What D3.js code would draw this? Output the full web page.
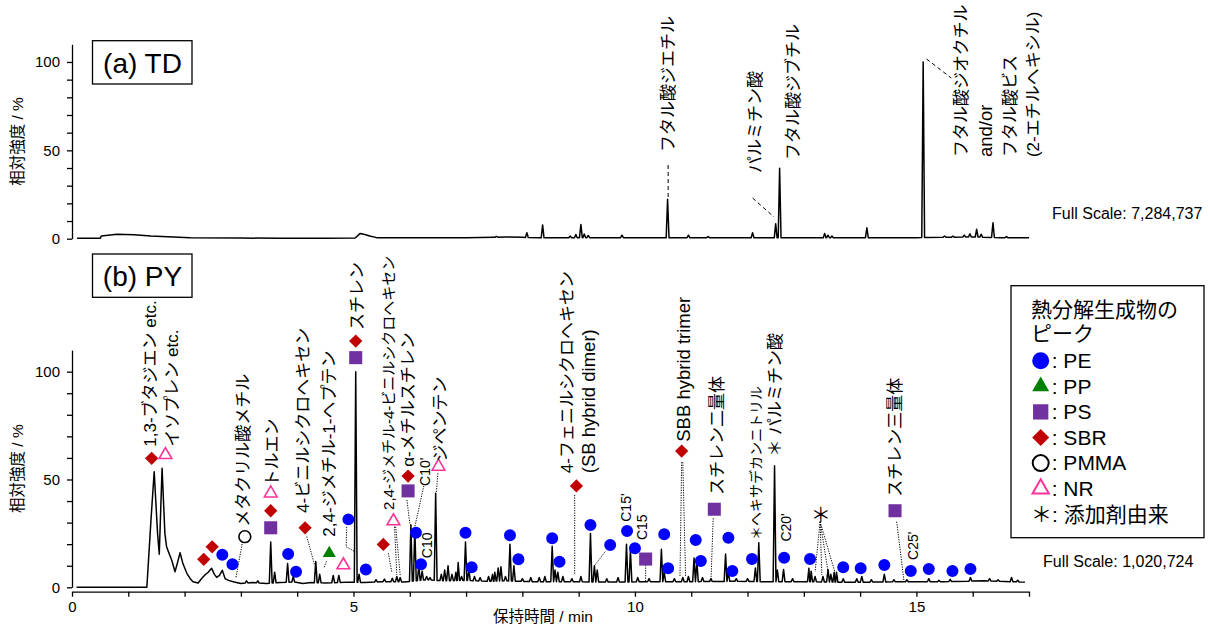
<!DOCTYPE html>
<html>
<head>
<meta charset="utf-8">
<script src="https://cdn.jsdelivr.net/npm/d3@7"></script>
<style>
  body { margin: 0; background: #fff; }
  svg { display: block; font-family: "Liberation Sans", Arial, "Noto Sans CJK JP", sans-serif; }
</style>
</head>
<body>
<svg id="chart" width="1208" height="626"></svg>
<script>
// ---- data (time in min, intensity in %) ----

// (a) TD : slow baseline and sharp peaks
var tdBaseline = [[0.09,0.2],[0.50,0.2],[0.52,1.5],[0.8,2.5],[1.1,2.2],[1.4,1.5],[1.8,1.0],[2.1,0.6],[3.0,0.4],[3.7,0.2],
  [4.5,0.3],[5.03,0.4],[5.12,3],[5.2,2.4],[5.29,1.5],[5.41,0.6],[6.0,0.5],[7.0,0.5],[7.5,0.8],[7.7,1.0],[8.0,0.8],
  [8.3,0.5],[9.5,0.6],[10.5,0.5],[11.5,0.6],[12.3,0.5],[13.0,0.5],[14.0,0.6],[15.0,0.6],[16.0,1.0],[16.5,0.6],[17.0,0.5]];
var tdPeaks = [[7.54,1.3],[8.08,3.4],[8.36,7.8],[8.85,1.5],[8.95,2.4],[9.04,8.1],[9.10,2.6],[9.17,1.8],[9.77,2],
  [10.58,22.3],[10.95,2],[11.3,1.2],[12.09,3.4],[12.50,8.5],[12.57,39.8],[13.37,3],[13.43,2],[13.5,1.5],[14.12,6.2],
  [15.12,100],[15.5,1.5],[15.65,1.5],[15.85,2],[15.95,2.8],[16.07,5.3],[16.15,2.5],[16.36,9],[16.6,1.2]];

// (b) PY
var pyBaseline = [[0.08,0],[1.33,0],[1.40,30],[1.46,53.6],[1.52,25],[1.55,15.3],[1.60,55.2],[1.65,25],[1.68,18.8],
  [1.72,16],[1.77,12.7],[1.83,7.2],[1.88,12],[1.92,16],[1.97,11],[2.04,6.5],[2.10,4],[2.15,2.6],[2.24,2.0],[2.30,4],
  [2.36,5.7],[2.42,7],[2.48,8.8],[2.53,6],[2.57,4.6],[2.62,5.5],[2.67,7.9],[2.72,4],[2.78,3.2],[2.88,2.5],[3.0,1.8],
  [3.2,2.2],[3.45,1.8],[3.7,2.2],[3.95,2.5],[4.1,1.8],[4.25,2.2],[4.5,2.0],[4.9,2.4],[5.2,2.2],[5.5,2.6],[5.9,2.5],
  [6.3,3.5],[6.6,3.0],[7.0,3.2],[7.4,2.8],[7.7,3.0],[8.2,2.6],[8.8,2.6],[9.5,2.4],[10.3,2.6],[11.0,2.6],[11.8,2.8],
  [12.3,2.6],[13.0,2.6],[13.6,2.4],[14.2,2.4],[14.8,2.6],[15.5,2.6],[16.2,3.0],[16.93,2.4]];
var pyPeaks = [[3.1,3],[3.3,3],[3.53,21],[3.6,7],[3.83,11],[3.93,5],[4.33,12],[4.40,6],[4.64,5.5],[4.74,5.5],[5.04,100],
  [5.10,6],[5.40,3.5],[5.55,3.8],[5.69,4.2],[5.77,5],[5.83,4.5],[6.02,29],[6.09,27.5],[6.16,10],[6.22,7.5],[6.30,5],
  [6.36,4.5],[6.46,43.6],[6.56,6],[6.62,8],[6.68,10],[6.75,6],[6.82,7],[6.86,11.5],[6.92,5],[6.99,21],[7.05,8],
  [7.15,5],[7.25,4.5],[7.40,5],[7.47,6],[7.51,7],[7.57,9],[7.62,9.5],[7.70,5],[7.78,20],[7.85,10],[8.00,4],[8.15,4.5],
  [8.30,4.5],[8.40,5],[8.53,19],[8.58,8],[8.63,7],[8.72,5],[8.88,4],[9.04,5],[9.21,25],[9.28,10],[9.33,8],[9.50,4],
  [9.70,4.5],[9.85,20],[9.92,17],[10.05,4.5],[10.25,4],[10.47,17.6],[10.52,7],[10.70,4],[10.85,4.5],[10.95,5],
  [11.05,13.6],[11.10,12],[11.20,4.5],[11.35,4],[11.61,15.4],[11.66,7],[11.80,4],[12.00,4],[12.14,9],[12.20,20.7],
  [12.48,56.4],[12.53,8],[12.64,8.3],[12.80,4],[13.09,8.8],[13.13,7.5],[13.20,5],[13.34,5],[13.43,8.3],[13.48,6],
  [13.54,7],[13.58,7],[13.70,4],[13.94,4],[14.03,5],[14.20,3.5],[14.43,6],[14.60,3.5],[14.83,3.5],[15.22,4],
  [15.40,3.3],[15.60,3.7],[15.96,4.5],[16.30,4],[16.45,3.5],[16.69,4.5],[16.80,3.3]];

// peak markers [time, intensity, polymer]
var pyMarkers = [[1.415,59.8,"SBR"],[1.66,61.4,"NR"],[2.34,13,"SBR"],[2.49,18.8,"SBR"],[2.67,15.1,"PE"],[2.85,10.7,"PE"],
  [3.07,23.5,"PMMA"],[3.53,43.6,"NR"],[3.53,35.5,"SBR"],[3.53,27.6,"PS"],[3.84,15.4,"PE"],[3.98,7.2,"PE"],
  [4.14,27.6,"SBR"],[4.57,15.8,"PP"],[4.82,10.3,"NR"],[4.91,31.5,"PE"],[5.04,114.2,"SBR"],[5.04,106.5,"PS"],
  [5.22,8.3,"PE"],[5.53,19.9,"SBR"],[5.71,30.7,"NR"],[5.97,51.6,"SBR"],[5.97,44.7,"PS"],[6.11,25.3,"PE"],
  [6.2,10.7,"PE"],[6.51,56,"NR"],[6.99,25.3,"PE"],[7.10,9.3,"PE"],[7.78,24.1,"PE"],[7.93,13,"PE"],[8.53,22.7,"PE"],
  [8.66,11.9,"PE"],[8.96,47,"SBR"],[9.21,28.9,"PE"],[9.56,19.6,"PE"],[9.86,26.1,"PE"],[10.0,18.1,"PE"],
  [10.19,13.1,"PS"],[10.52,24.6,"PE"],[10.59,8.8,"PE"],[10.83,63.2,"SBR"],[11.08,21.9,"PE"],[11.17,12.2,"PE"],
  [11.41,36.2,"PS"],[11.66,23,"PE"],[11.73,7.6,"PE"],[12.08,13.1,"PE"],[12.65,13.7,"PE"],[13.11,13.1,"PE"],
  [13.7,9.3,"PE"],[14.01,8.8,"PE"],[14.43,10.3,"PE"],[14.62,35.5,"PS"],[14.9,7.6,"PE"],[15.22,8.5,"PE"],
  [15.64,7.6,"PE"],[15.96,8.5,"PE"]];
var pyAdditive = [[13.3,33.5]];

// leader lines
var pyLeaders = [[[3.03,21.2],[2.91,4.2]],[[4.17,23.5],[4.31,10.3]],[[4.52,12],[4.47,8.8]],
  [[4.88,28],[4.87,18.8],[5.03,16.5]],[[5.62,15.8],[5.68,7.2]],[[5.73,28.1],[5.77,5.7]],[[5.75,28.1],[5.83,5.7]],
  [[5.95,40.5],[6.0,29.7]],[[6.25,47],[6.09,28.1]],[[6.50,52.9],[6.47,43.6]],[[8.93,42.8],[8.93,5.7]],
  [[9.47,16.5],[9.29,10.3]],[[10.19,10.3],[10.19,2.6]],[[10.83,58],[10.80,5]],[[10.85,58],[10.90,5]],
  [[11.39,32],[11.35,2.6]],[[13.29,30.4],[13.2,7.2]],[[13.29,30.4],[13.32,5.7]],[[13.29,30.4],[13.43,7.2]],
  [[13.29,30.4],[13.55,7.2]],[[14.65,30.4],[14.78,2.6]]];
var tdLeaders = [[[10.59,41.7],[10.59,23.6]],[[12.09,23],[12.47,12.3]],[[15.18,101.7],[15.62,90.9]]];

// compound names [text, time, intensity at text start, size class]
var tdLabels = [["フタル酸ジエチル",10.59,49.1],["パルミチン酸",12.13,37.2],["フタル酸ジブチル",12.81,44.5],
  ["フタル酸ジオクチル",15.80,46.2],["and/or",16.22,46.2,"latin"],["フタル酸ビス",16.66,46.2],["(2-エチルヘキシル)",17.07,46.2]];
var pyLabels = [["1,3-ブタジエン etc.",1.385,65.2],["イソプレン etc.",1.77,65.2],["メタクリル酸メチル",3.04,28.1],
  ["トルエン",3.56,46.7],["4-ビニルシクロヘキセン",4.11,34.5],["2,4-ジメチル-1-ヘプテン",4.56,23.5],["スチレン",5.06,119.3],
  ["2,4-ジメチル-4-ビニルシクロヘキセン",5.62,35.9,"mid"],["α-メチルスチレン",5.97,55.9],["C10'",6.28,47,"small"],
  ["C10",6.31,13.5,"small"],["ジペンテン",6.54,58.3],["4-フェニルシクロヘキセン",8.79,52.9],["(SB hybrid dimer)",9.17,52.9,"latin"],
  ["C15'",9.85,30.4,"small"],["C15",10.12,21.9,"small"],["SBB hybrid trimer",10.86,67.5,"latin"],["スチレン二量体",11.45,42.8],
  ["＊ヘキサデカンニトリル",12.16,21.9,"small"],["＊ パルミチン酸",12.49,60.6],["C20'",12.68,21.2,"small"],
  ["スチレン三量体",14.62,42],["C25'",14.94,12.7,"small"]];

var polymers = ["PE","PP","PS","SBR","PMMA","NR"];
var xTicks = d3.range(0, 18, 1);
var yTicks = d3.range(0, 101, 10);
var fullScaleTD = "Full Scale: 7,284,737";
var fullScalePY = "Full Scale: 1,020,724";

// ---- drawing ----
var svg = d3.select("#chart");
var x = d3.scaleLinear().domain([0, 17]).range([72, 1029]);
var yTop = d3.scaleLinear().domain([0, 110]).range([238.7, 44.3]);
var yBot = d3.scaleLinear().domain([0, 110]).range([587.3, 350.1]);

var style = {
  PE:   {shape: d3.symbolCircle,   fill: "#0000ff", stroke: "none", size: 113, legendSize: 227},
  PP:   {shape: d3.symbolTriangle, fill: "#008000", stroke: "none", size: 75,  legendSize: 125},
  PS:   {shape: d3.symbolSquare,   fill: "#7030a0", stroke: "none", size: 170, legendSize: 234},
  SBR:  {shape: d3.symbolSquare,   fill: "#c00000", stroke: "none", size: 88,  legendSize: 144, rot: 45},
  PMMA: {shape: d3.symbolCircle,   fill: "#fff",    stroke: "#000", size: 110, legendSize: 200},
  NR:   {shape: d3.symbolTriangle, fill: "#fff",    stroke: "#ff3399", size: 70, legendSize: 115}
};
var labelSize = {normal: 17, latin: 18.5, mid: 15, small: 14};

function buildTrace(baseline, peaks, hw) {
  var base = d3.scaleLinear().domain(baseline.map(function(d){ return d[0]; }))
    .range(baseline.map(function(d){ return d[1]; })).clamp(true);
  var pts = baseline.filter(function(b) {
    return !peaks.some(function(p){ return Math.abs(b[0] - p[0]) < hw; });
  });
  peaks.forEach(function(p) {
    pts.push([p[0] - hw, base(p[0] - hw)], [p[0], p[1]], [p[0] + hw, base(p[0] + hw)]);
  });
  pts.sort(function(a, b){ return a[0] - b[0]; });
  return pts;
}

function drawPanel(y, baseline, peaks, name, boxY, fullScale, fsX, fsY) {
  var g = svg.append("g");
  var ax = g.append("g").attr("transform", "translate(" + x(0) + ",0)")
    .call(d3.axisLeft(y).tickValues(yTicks).tickSize(5).tickPadding(7).tickSizeOuter(0)
      .tickFormat(function(d){ return d % 50 === 0 ? d : ""; }));
  ax.selectAll("path,line").attr("stroke-width", 1.3);
  ax.selectAll("text").attr("font-size", 15).attr("font-family", null).attr("fill", "#000");

  g.append("text")
    .attr("transform", "translate(18," + (y(0) + y(110)) / 2 + ") rotate(-90)")
    .attr("text-anchor", "middle").attr("dy", "0.35em").attr("font-size", 15.5)
    .text("相対強度 / %");

  var line = d3.line().x(function(d){ return x(d[0]); }).y(function(d){ return y(d[1]); });
  g.append("path").datum(buildTrace(baseline, peaks, 0.025))
    .attr("d", line).attr("fill", "none").attr("stroke", "#000")
    .attr("stroke-width", 1.5).attr("stroke-linejoin", "round");

  g.append("rect").attr("x", 92.5).attr("y", boxY).attr("width", 99.5).attr("height", 43.3)
    .attr("fill", "#fff").attr("stroke", "#000").attr("stroke-width", 1.3);
  g.append("text").attr("x", 142.5).attr("y", boxY + 32.3).attr("text-anchor", "middle")
    .attr("font-size", 28).text(name);

  g.append("text").attr("x", fsX).attr("y", fsY).attr("dy", "0.35em").attr("font-size", 16).text(fullScale);
  return g;
}

function drawLeaders(g, y, data, dash) {
  var line = d3.line().x(function(d){ return x(d[0]); }).y(function(d){ return y(d[1]); });
  g.selectAll(null).data(data).enter().append("path")
    .attr("d", line).attr("fill", "none").attr("stroke", "#000")
    .attr("stroke-width", 1).attr("stroke-dasharray", dash);
}

function drawLabels(g, y, data) {
  g.selectAll(null).data(data).enter().append("text")
    .attr("transform", function(d){ return "translate(" + x(d[1]) + "," + y(d[2]) + ") rotate(-90)"; })
    .attr("dy", "0.35em")
    .attr("font-size", function(d){ return labelSize[d[3] || "normal"]; })
    .text(function(d){ return d[0]; });
}

function symbolPath(s, size) {
  return d3.symbol().type(s.shape).size(size)();
}

// (a) TD
var gTop = drawPanel(yTop, tdBaseline, tdPeaks, "(a) TD", 40.7, fullScaleTD, 1052, 213.3);
drawLeaders(gTop, yTop, tdLeaders, "4,3");
drawLabels(gTop, yTop, tdLabels);

// (b) PY
var gBot = drawPanel(yBot, pyBaseline, pyPeaks, "(b) PY", 254, fullScalePY, 1043, 561.7);
var xa = gBot.append("g").attr("transform", "translate(0,591.7)")
  .call(d3.axisBottom(x).tickValues(xTicks).tickSize(5).tickPadding(5).tickSizeOuter(0)
    .tickFormat(function(d){ return d % 5 === 0 ? d : ""; }));
xa.selectAll("path,line").attr("stroke-width", 1.3);
xa.selectAll("text").attr("font-size", 15).attr("font-family", null).attr("fill", "#000");
gBot.append("text").attr("x", 543).attr("y", 617).attr("dy", "0.35em").attr("text-anchor", "middle")
  .attr("font-size", 15.5).text("保持時間 / min");

drawLeaders(gBot, yBot, pyLeaders, "1.2,1.3");

gBot.selectAll(null).data(pyMarkers).enter().append("path")
  .attr("d", function(d){ return symbolPath(style[d[2]], style[d[2]].size); })
  .attr("transform", function(d){
    return "translate(" + x(d[0]) + "," + yBot(d[1]) + ")" + (style[d[2]].rot ? " rotate(45)" : "");
  })
  .attr("fill", function(d){ return style[d[2]].fill; })
  .attr("stroke", function(d){ return style[d[2]].stroke; })
  .attr("stroke-width", 1.6);

gBot.selectAll(null).data(pyAdditive).enter().append("text")
  .attr("x", function(d){ return x(d[0]); }).attr("y", function(d){ return yBot(d[1]); })
  .attr("dy", "0.35em").attr("text-anchor", "middle").attr("font-size", 20).text("＊");

drawLabels(gBot, yBot, pyLabels);

// legend
var lg = svg.append("g");
lg.append("rect").attr("x", 1011).attr("y", 285.7).attr("width", 193).attr("height", 252)
  .attr("fill", "#fff").attr("stroke", "#000").attr("stroke-width", 1.3);
lg.selectAll(null).data(["熱分解生成物の", "ピーク"]).enter().append("text")
  .attr("x", 1031).attr("y", function(d, i){ return 310 + i * 23.3; })
  .attr("dy", "0.35em").attr("font-size", 21).text(function(d){ return d; });
var item = lg.selectAll(null).data(polymers).enter().append("g")
  .attr("transform", function(d, i){ return "translate(1040.7," + (360.7 + i * 25.6) + ")"; });
item.append("path")
  .attr("d", function(d){ return symbolPath(style[d], style[d].legendSize); })
  .attr("transform", function(d){ return style[d].rot ? "rotate(45)" : null; })
  .attr("fill", function(d){ return style[d].fill; })
  .attr("stroke", function(d){ return style[d].stroke; })
  .attr("stroke-width", 2);
item.append("text").attr("x", 11).attr("dy", "0.35em").attr("font-size", 21)
  .text(function(d){ return ": " + d; });
lg.append("text").attr("x", 1031).attr("y", 360.7 + 6 * 25.6).attr("dy", "0.35em")
  .attr("font-size", 21).text("＊: 添加剤由来");
</script>
</body>
</html>
